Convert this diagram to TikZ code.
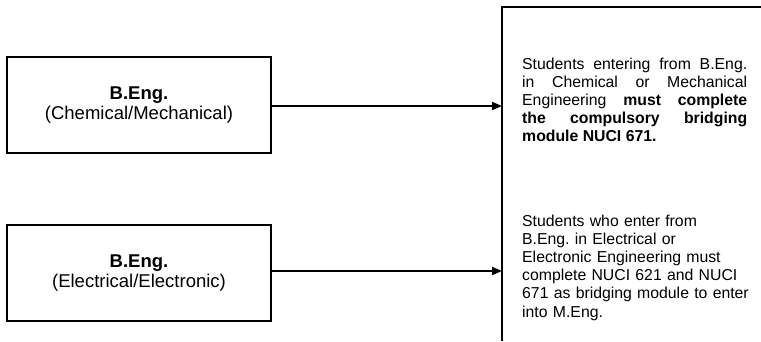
\documentclass[tikz,border=0pt]{standalone}
\usepackage{fontspec}
\setmainfont{Liberation Sans}
\usetikzlibrary{arrows.meta}
\frenchspacing
\hyphenpenalty=10000
\exhyphenpenalty=10000
\begin{document}
\begin{tikzpicture}[x=1pt,y=-1pt,
  srcbox/.style={draw, line width=1.8pt, minimum width=264pt, minimum height=96pt,
    inner sep=0pt, align=center, font=\fontsize{18.5}{20.5}\selectfont},
  link/.style={line width=1.8pt, -{Triangle[length=10pt,width=8pt]}},
  frame/.style={line width=1.8pt},
  note/.style={inner sep=0pt, anchor=base west,
    font=\fontsize{15.8}{18.2}\selectfont}]
\useasboundingbox (0,0) rectangle (761,341);
\node[srcbox] (b1) at (139,105) {\textbf{B.Eng.}\\(Chemical/Mechanical)};
\node[srcbox] (b2) at (139,273) {\textbf{B.Eng.}\\(Electrical/Electronic)};
\coordinate (fb) at (502,341);
\coordinate (ft) at (502,7);
\coordinate (fr) at (761,7);
\draw[frame] (fb) -- (ft) -- (fr);
\draw[link] ([yshift=-1pt]b1.east) -- ([yshift=-1pt]b1.east -| ft);
\draw[link] ([yshift=2pt]b2.east) -- ([yshift=2pt]b2.east -| ft);
\node[note, text width=225pt, align=justify] (t1) at (522,69) {Students entering from B.Eng.\linebreak in Chemical or Mechanical\linebreak Engineering \textbf{must complete}\linebreak \textbf{the compulsory bridging}\linebreak \textbf{module NUCI 671.}};
\node[note, text width=236pt, align=left] (t2) at (522,226) {Students who enter from\\B.Eng. in Electrical or\\Electronic Engineering must\\complete NUCI 621 and NUCI\\671 as bridging module to enter\\into M.Eng.};
\end{tikzpicture}
\end{document}
